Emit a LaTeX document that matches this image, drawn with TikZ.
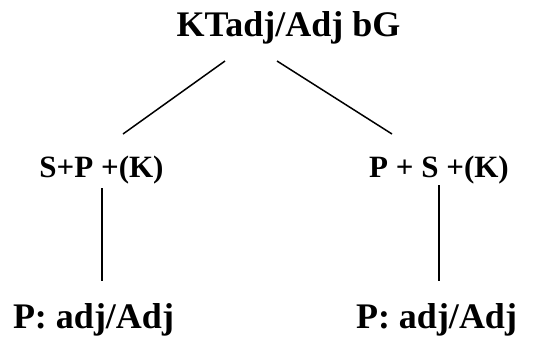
\documentclass[tikz,border=0pt]{standalone}
\usepackage{fontspec}
\setmainfont{Liberation Serif}
\tikzset{
  treetop/.style={font=\fontsize{36}{40}\selectfont\bfseries, inner sep=0pt, anchor=base},
  treemid/.style={font=\fontsize{31}{35}\selectfont\bfseries, inner sep=0pt, anchor=base},
  treeleaf/.style={font=\fontsize{36}{40}\selectfont\bfseries, inner sep=0pt, anchor=base},
  branch/.style={line width=1.5pt, draw=black}
}

\begin{document}
\begin{tikzpicture}[x=1pt, y=1pt]
  \useasboundingbox (0,0) rectangle (535,-341);

  \node[treetop] (kt) at (288.5,-36) {KTadj/Adj bG};
  \node[treemid] (spk) at (101.5,-177) {S+P +(K)};
  \node[treemid] (psk) at (439,-177) {P + S +(K)};
  \node[treeleaf] (adjl) at (93.5,-328) {P: adj/Adj};
  \node[treeleaf] (adjr) at (436.5,-328) {P: adj/Adj};

  % branch ends
  \coordinate (kt-l) at (225,-61);
  \coordinate (kt-r) at (277,-61);
  \coordinate (spk-up) at (123,-134);
  \coordinate (psk-up) at (392,-134);
  \coordinate (spk-dn) at (102,-188);
  \coordinate (psk-dn) at (439,-185);
  \coordinate (adjl-up) at (102,-281);
  \coordinate (adjr-up) at (439,-281);

  \draw[branch] (kt-l) -- (spk-up);
  \draw[branch] (kt-r) -- (psk-up);
  \draw[branch] (spk-dn) -- (adjl-up);
  \draw[branch] (psk-dn) -- (adjr-up);
\end{tikzpicture}
\end{document}
